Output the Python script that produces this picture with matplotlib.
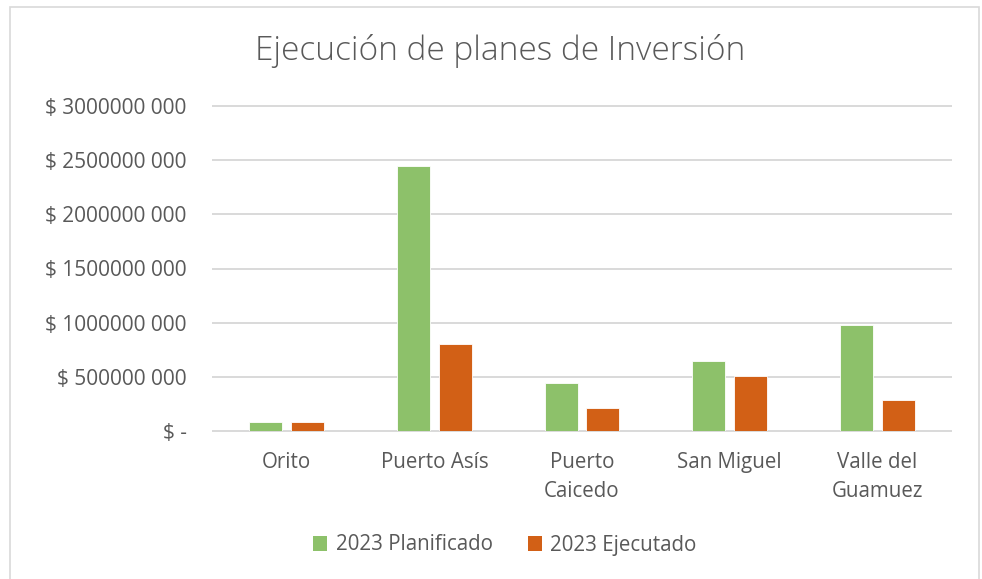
import matplotlib
matplotlib.use("Agg")
import matplotlib.pyplot as plt
import numpy as np
from matplotlib.patches import Rectangle, Patch
from matplotlib.ticker import FuncFormatter, MultipleLocator

categories = ["Orito", "Puerto Asís", "Puerto\nCaicedo", "San Miguel", "Valle del\nGuamuez"]
planificado = [82e6, 2442e6, 445e6, 647e6, 976e6]
ejecutado = [80e6, 804e6, 212e6, 506e6, 282e6]
series_names = ["2023 Planificado", "2023 Ejecutado"]
title = "Ejecución de planes de Inversión"

green = "#8DC16A"
orange = "#D26016"
text_gray = "#595959"
grid_gray = "#D9D9D9"

plt.rcParams['font.family'] = ['Open Sans', 'DejaVu Sans']

fig = plt.figure(figsize=(9.82, 5.79), dpi=100)
fig.patches.append(Rectangle((10/982, -0.02), 969/982, 1.02 - 7/579, transform=fig.transFigure,
                             fill=False, edgecolor=grid_gray, linewidth=1.2))

ax = fig.add_axes([213/982, 1 - 431/579, (951 - 213)/982, (431 - 106)/579])
x = np.arange(len(categories))
w = 0.224
off = 0.142
ax.bar(x - off, planificado, w, color=green, edgecolor="white", linewidth=0.6, label=series_names[0], zorder=3)
ax.bar(x + off, ejecutado, w, color=orange, edgecolor="white", linewidth=0.6, label=series_names[1], zorder=3)

ax.set_xlim(-0.5, len(categories) - 0.5)
ax.set_ylim(0, 3e9)
ax.yaxis.set_major_locator(MultipleLocator(5e8))

def fmt(v, pos):
    v = int(round(v))
    if v == 0:
        return "$ -"
    return f"$ {v // 1000} {v % 1000:03d}"

ax.yaxis.set_major_formatter(FuncFormatter(fmt))
ax.set_xticks(x)
ax.set_xticklabels(categories, linespacing=1.5, va="top")
for s in ax.spines.values():
    s.set_visible(False)
ax.grid(axis="y", color=grid_gray, linewidth=1.4, zorder=0)
for gl in ax.get_ygridlines():
    gl.set_clip_on(False)
ax.tick_params(axis="y", length=0, pad=19, labelsize=15, labelcolor=text_gray)
ax.tick_params(axis="x", length=0, pad=15, labelsize=14.8, labelcolor=text_gray)

fig.text(500/982, 1 - 51/579, title, ha="center", va="center", fontsize=24, color=text_gray, fontweight="light")

handles = [Patch(facecolor=green), Patch(facecolor=orange)]
fig.legend(handles, series_names, loc="center", bbox_to_anchor=(0.514, 1 - 545/579), ncol=2, frameon=False,
           fontsize=14.8, labelcolor=text_gray, handlelength=0.7, handleheight=0.7, handletextpad=0.4,
           columnspacing=1.7)

fig.savefig("out.png", dpi=100)
